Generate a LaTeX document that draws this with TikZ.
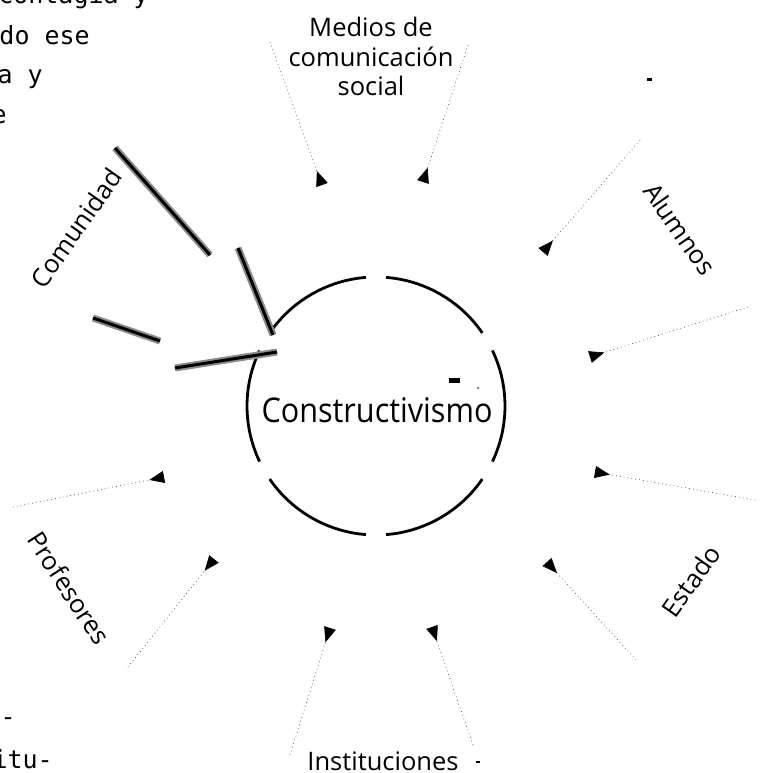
\documentclass[tikz,border=0pt]{standalone}
\usepackage{fontspec}
\setmainfont{Open Sans}
\newfontfamily\pagefont{DejaVu Sans Mono}
\newfontfamily\hubfont[FakeStretch=0.9]{Open Sans}
\usetikzlibrary{arrows.meta}
\tikzset{
  ring/.style={line width=2.8pt, draw=black},
  feed/.style={draw=black!75, line width=0.7pt, dash pattern=on 0.7pt off 3.2pt,
    -{Triangle[reversed, length=15pt, width=12pt, color=black]}},
  marker/.style={draw=black, line width=3pt,
    preaction={draw=black!45, line width=7pt}},
  lab/.style={font=\fontsize{25.5}{29.5}\selectfont, inner sep=0pt, align=center},
  pagetext/.style={font=\pagefont\fontsize{25}{30}\selectfont, inner sep=0pt, anchor=base east},
}
\begin{document}
\begin{tikzpicture}[x=1pt, y=-1pt]
\useasboundingbox (0,0) rectangle (765,773);
\fill[white] (0,0) rectangle (765,773);

% running text of the page around the figure
\node[pagetext] (pgA) at (149,4) {contagia y};
\node[pagetext] (pgB) at (90,45) {do ese};
\node[pagetext] (pgC) at (43,84) {a y};
\node[pagetext] (pgD) at (7,124) {e};
\node[pagetext] (pgE) at (16,725) {o-};
\node[pagetext] (pgF) at (53,768) {itu-};

% broken ring round the central idea
\coordinate (hub) at (376,406);
\foreach \c in {0,60,...,300} {
  \draw[ring] (hub) ++({-\c+25.5}:129) arc[start angle={-\c+25.5}, end angle={-\c-25.5}, radius=129];
}
\node[font=\hubfont\fontsize{34}{37}\selectfont, inner sep=0pt, anchor=base] (title) at (377,422) {Constructivismo};

% the six agents
\node[lab, anchor=north] (medios) at (371,17) {Medios de\\comunicación\\social};
\node[lab, rotate=-55] (alumnos) at (680,229) {Alumnos};
\node[lab, rotate=55] (estado) at (691,581) {Estado};
\node[lab, anchor=base] (instituciones) at (383,770) {Instituciones};
\node[lab, rotate=-57] (profesores) at (69,588) {Profesores};
\node[lab, rotate=55] (comunidad) at (76,228) {Comunidad};

% arrow ends
\coordinate (medL-t) at (270,42);  \coordinate (medL-h) at (322,185);
\coordinate (medR-t) at (468,45);  \coordinate (medR-h) at (423,182);
\coordinate (aluA-t) at (640,140); \coordinate (aluA-h) at (543,252);
\coordinate (aluB-t) at (748,307); \coordinate (aluB-h) at (590,357);
\coordinate (estA-t) at (755,500); \coordinate (estA-h) at (595,472);
\coordinate (estB-t) at (636,660); \coordinate (estB-h) at (547,562);
\coordinate (insL-t) at (290,755); \coordinate (insL-h) at (330,628);
\coordinate (insR-t) at (473,745); \coordinate (insR-h) at (432,627);
\coordinate (proA-t) at (13,507);  \coordinate (proA-h) at (164,477);
\coordinate (proB-t) at (128,667); \coordinate (proB-h) at (214,559);
\coordinate (comA-t) at (115,148); \coordinate (comA-h) at (210,255);
\coordinate (comB-t) at (93,318);  \coordinate (comB-h) at (160,341);
\coordinate (comC-t) at (238,248); \coordinate (comC-h) at (273,335);
\coordinate (comD-t) at (175,368); \coordinate (comD-h) at (277,352);

\foreach \a in {medL,medR,aluA,aluB,estA,estB,insL,insR,proA,proB}
  \draw[feed] (\a-t) -- (\a-h);

% the Comunidad arrows, gone over by hand
\foreach \a in {comA,comB,comC,comD}
  \draw[marker] (\a-t) -- (\a-h);

% stray ink marks
\fill (449,378) rectangle (460,383);
\fill (478,388) circle (0.9);
\fill (647,78) rectangle (652,81);
\fill (476,761) rectangle (480,763);
\end{tikzpicture}
\end{document}
